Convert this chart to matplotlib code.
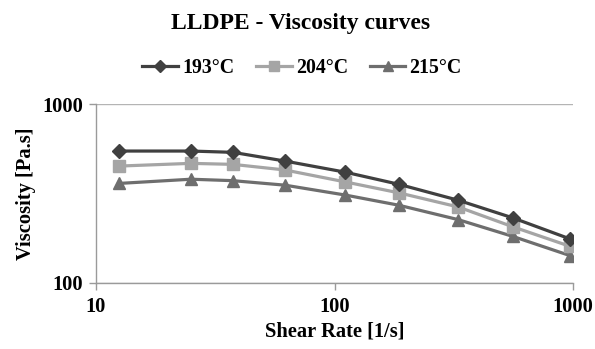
import matplotlib
matplotlib.use("Agg")
import matplotlib.pyplot as plt
from matplotlib.ticker import NullLocator

# shear rate [1/s] and viscosity [Pa.s]
shear_rate = [12.5, 25, 37.5, 62, 111, 186, 330, 560, 975]
visc_193 = [546, 546, 537, 480, 416, 356, 290, 231, 176]
visc_204 = [450, 466, 460, 428, 367, 319, 266, 206, 160]
visc_215 = [360, 380, 373, 352, 310, 272, 226, 182, 142]

labels = ["193°C", "204°C", "215°C"]
x_ticks = [10, 100, 1000]
y_ticks = [100, 1000]

plt.rcParams['font.family'] = ['Liberation Serif', 'DejaVu Serif']
plt.rcParams['font.weight'] = 'bold'

fig = plt.figure(figsize=(5.95, 3.49), dpi=100)
W, H = 595.0, 349.0
ax = fig.add_axes([96 / W, (H - 283) / H, (573 - 96) / W, (283 - 104) / H])

ax.plot(shear_rate, visc_193, color='#404040', lw=2.3, marker='D', ms=7.5, label=labels[0], zorder=5)
ax.plot(shear_rate, visc_204, color='#a5a5a5', lw=2.3, marker='s', ms=8.5, label=labels[1], zorder=4)
ax.plot(shear_rate, visc_215, color='#6e6e6e', lw=2.3, marker='^', ms=8.5, label=labels[2], zorder=3)

ax.set_xscale('log')
ax.set_yscale('log')
ax.set_xlim(10, 1000)
ax.set_ylim(100, 1000)
ax.set_xticks(x_ticks)
ax.set_xticklabels([str(v) for v in x_ticks])
ax.set_yticks(y_ticks)
ax.set_yticklabels([str(v) for v in y_ticks])
ax.xaxis.set_minor_locator(NullLocator())
ax.yaxis.set_minor_locator(NullLocator())

ax.grid(axis='y', color='#b4b4b4', lw=1.0)
for s in ['top', 'right']:
    ax.spines[s].set_visible(False)
for s in ['left', 'bottom']:
    ax.spines[s].set_color('#9a9a9a')
    ax.spines[s].set_linewidth(1.0)
ax.tick_params(axis='both', colors='#9a9a9a', length=5, width=1.0, labelsize=14.8,
               labelcolor='black')
ax.tick_params(axis='x', pad=5)
ax.tick_params(axis='y', pad=4)

ax.set_xlabel('Shear Rate [1/s]', fontsize=14.8, fontweight='bold', labelpad=3)
ax.set_ylabel('Viscosity [Pa.s]', fontsize=14.8, fontweight='bold', labelpad=5)

fig.text(301 / W, 1 - 24 / H, 'LLDPE - Viscosity curves', ha='center', va='center',
         fontsize=17, fontweight='bold')

fig.legend(loc='center', bbox_to_anchor=(302 / W, 1 - 68 / H), ncol=3, frameon=False,
           handlelength=1.8, handletextpad=0.2, columnspacing=1.1, markerscale=0.85,
           prop={'weight': 'bold', 'size': 14.3})

fig.savefig('out.png', dpi=100, facecolor='white')
